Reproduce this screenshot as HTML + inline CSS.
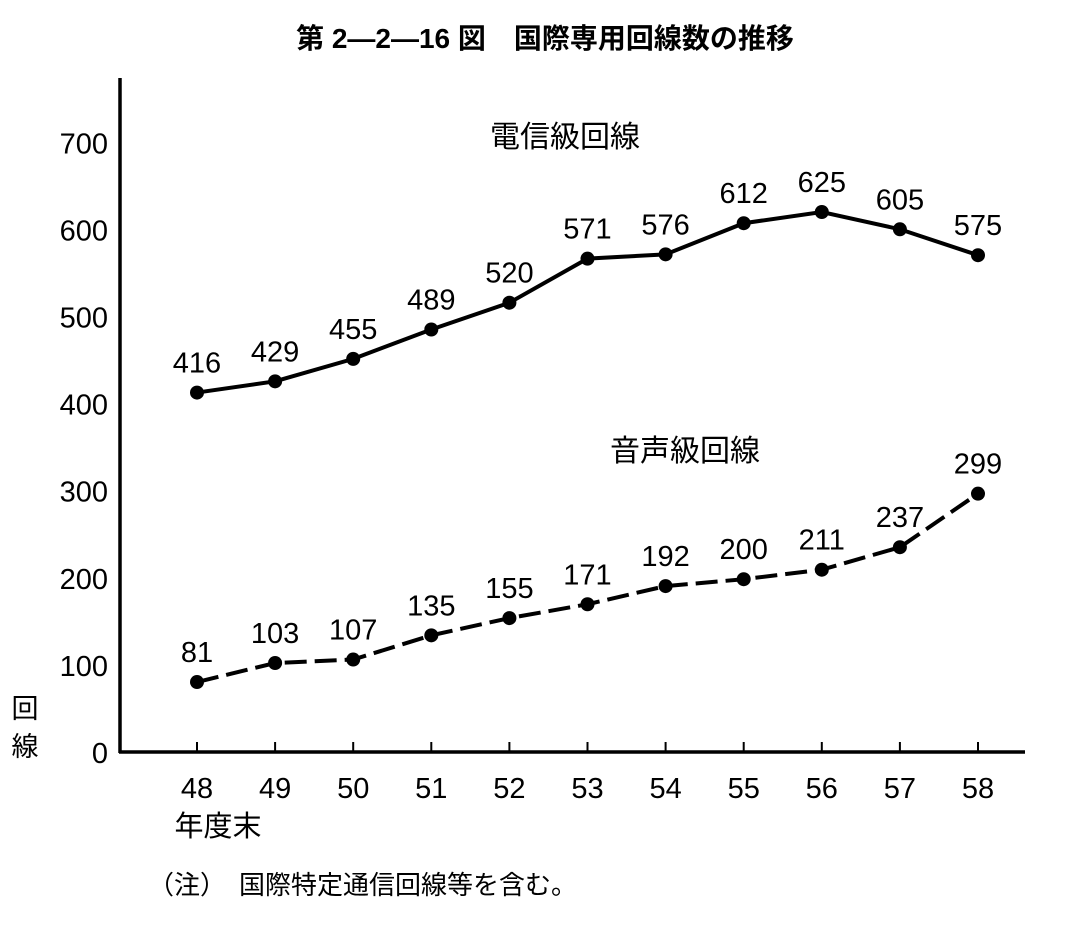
<!DOCTYPE html>
<html><head><meta charset="utf-8"><style>
body{margin:0;background:#fff;}
svg text{font-family:"Liberation Sans","Noto Sans CJK JP",sans-serif;fill:#000;}
</style></head><body>
<svg width="1089" height="929" viewBox="0 0 1089 929">
<text x="545" y="48" font-size="28" font-weight="bold" text-anchor="middle">第 2―2―16 図　国際専用回線数の推移</text>
<g id="axes"></g>
<g id="plot"></g>
<text x="565" y="147" font-size="30" text-anchor="middle">電信級回線</text>
<text x="685" y="461" font-size="30" text-anchor="middle">音声級回線</text>
<text x="25" y="718" font-size="27" text-anchor="middle">回</text>
<text x="25" y="756" font-size="27" text-anchor="middle">線</text>
<text x="218" y="836" font-size="29" text-anchor="middle">年度末</text>
<text x="148" y="894" font-size="26">（注）　国際特定通信回線等を含む。</text>
</svg>
<script>
const categories=["48","49","50","51","52","53","54","55","56","57","58"];
const telegraph=[416,429,455,489,520,571,576,612,625,605,575];
const voice=[81,103,107,135,155,171,192,200,211,237,299];
const yTicks=[0,100,200,300,400,500,600,700];
const NS="http://www.w3.org/2000/svg";
const x=i=>197+i*78.1;
const y=v=>752-v*0.864;
const yt=v=>752-v*0.871;
function mk(tag,attrs,parent){const e=document.createElementNS(NS,tag);for(const k in attrs)e.setAttribute(k,attrs[k]);parent.appendChild(e);return e;}
const axes=document.getElementById('axes'),plot=document.getElementById('plot');
let a=mk('line',{x1:120,y1:78,x2:120,y2:753,stroke:'#000','stroke-width':3.5},axes);


a=mk('line',{x1:119,y1:752,x2:1025,y2:752,stroke:'#000','stroke-width':3.5},axes);


yTicks.forEach(t=>{const e=mk('text',{x:108,y:yt(t)+11,'font-size':29,'text-anchor':'end'},axes);e.textContent=t;

});
categories.forEach((c,i)=>{const tk=mk('line',{x1:x(i),y1:752,x2:x(i),y2:742,stroke:'#000','stroke-width':2},axes);


const e=mk('text',{x:x(i),y:798,'font-size':29,'text-anchor':'middle'},axes);e.textContent=c;

});
function series(vals,dash,name){
const p=mk('polyline',{points:vals.map((v,i)=>x(i)+','+y(v)).join(' '),fill:'none',stroke:'#000','stroke-width':4},plot);
if(dash)p.setAttribute('stroke-dasharray','22,8');


vals.forEach((v,i)=>{const c=mk('circle',{cx:x(i),cy:y(v),r:7,fill:'#000'},plot);


const t=mk('text',{x:x(i),y:y(v)-20,'font-size':29,'text-anchor':'middle'},plot);t.textContent=v;

});
}
series(telegraph,false,'telegraph');
series(voice,true,'voice');
</script>
</body></html>
